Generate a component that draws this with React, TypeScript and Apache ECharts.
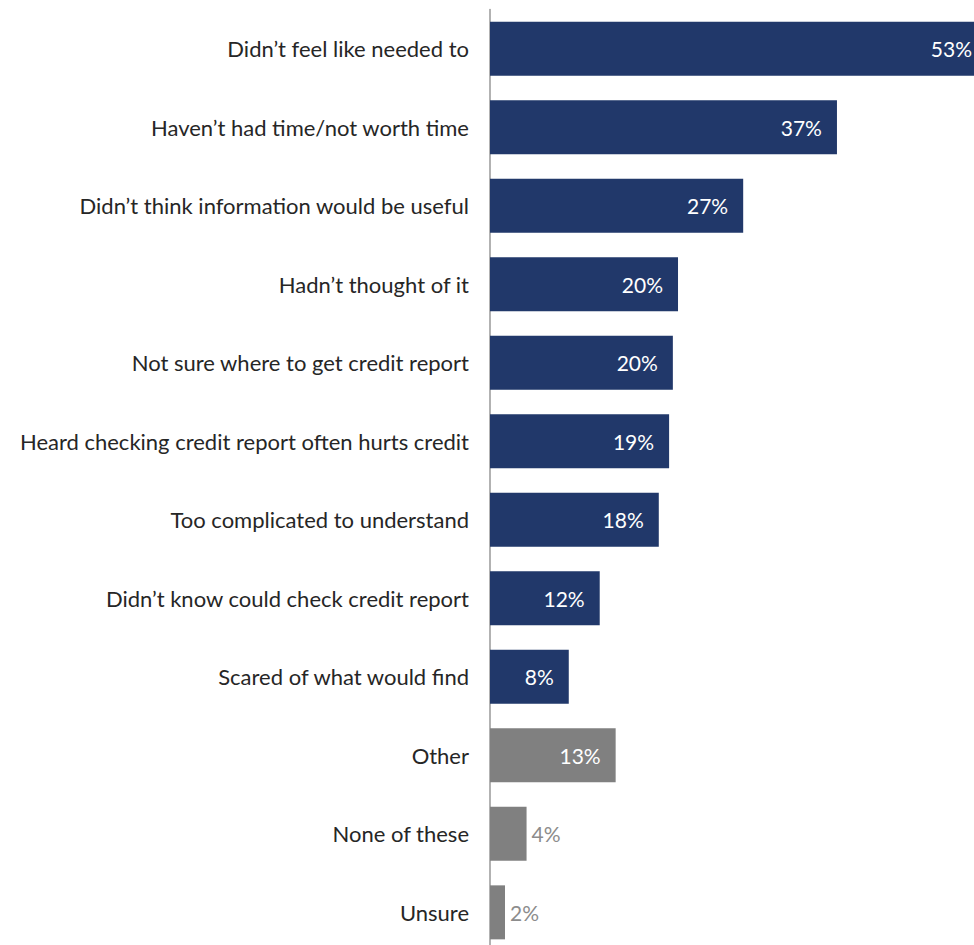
import React, { useEffect, useRef } from "react";
import * as echarts from "echarts";

const categories = [
  "Didn’t feel like needed to",
  "Haven’t had time/not worth time",
  "Didn’t think information would be useful",
  "Hadn’t thought of it",
  "Not sure where to get credit report",
  "Heard checking credit report often hurts credit",
  "Too complicated to understand",
  "Didn’t know could check credit report",
  "Scared of what would find",
  "Other",
  "None of these",
  "Unsure",
];
const values = [53, 37, 27, 20.05, 19.5, 19.1, 18, 11.7, 8.4, 13.4, 3.9, 1.6];
const groups = ["main", "main", "main", "main", "main", "main", "main", "main", "main", "other", "other", "other"];

const NAVY = "#21386a";
const GRAY = "#808080";

export default function App() {
  const ref = useRef<HTMLDivElement>(null);
  useEffect(() => {
    if (!ref.current) return;
    const chart = echarts.init(ref.current, null, { renderer: "svg" });
    const data = values.map((v, i) => {
      const inside = v >= 6;
      return {
        value: v,
        itemStyle: { color: groups[i] === "main" ? NAVY : GRAY },
        label: inside
          ? { position: "insideRight", distance: 15, color: "#ffffff" }
          : { position: "right", distance: 5, color: "#8c8c8c" },
      };
    });
    chart.setOption({
      animation: false,
      grid: {
        left: 490,
        width: 497,
        top: 9.6,
        height: 942,
        containLabel: false,
        outerBoundsMode: "none",
      },
      xAxis: {
        type: "value",
        min: 0,
        max: 53,
        show: false,
      },
      yAxis: {
        type: "category",
        data: categories,
        inverse: true,
        axisLine: { show: true, lineStyle: { color: "#999999", width: 1.5 } },
        axisTick: { show: false },
        axisLabel: {
          margin: 21,
          fontSize: 22,
          color: "#262626",
          fontFamily: "Lato",
        },
        splitLine: { show: false },
      },
      series: [
        {
          type: "bar",
          data,
          barWidth: 54,
          clip: false,
          label: {
            show: true,
            fontSize: 21,
            fontFamily: "Lato",
            formatter: (p: any) => Math.round(p.value) + "%",
          },
        },
      ],
    });
    return () => chart.dispose();
  }, []);
  return (
    <div
      ref={ref}
      style={{ position: "absolute", left: 0, top: 0, width: 974, height: 945 }}
    />
  );
}
